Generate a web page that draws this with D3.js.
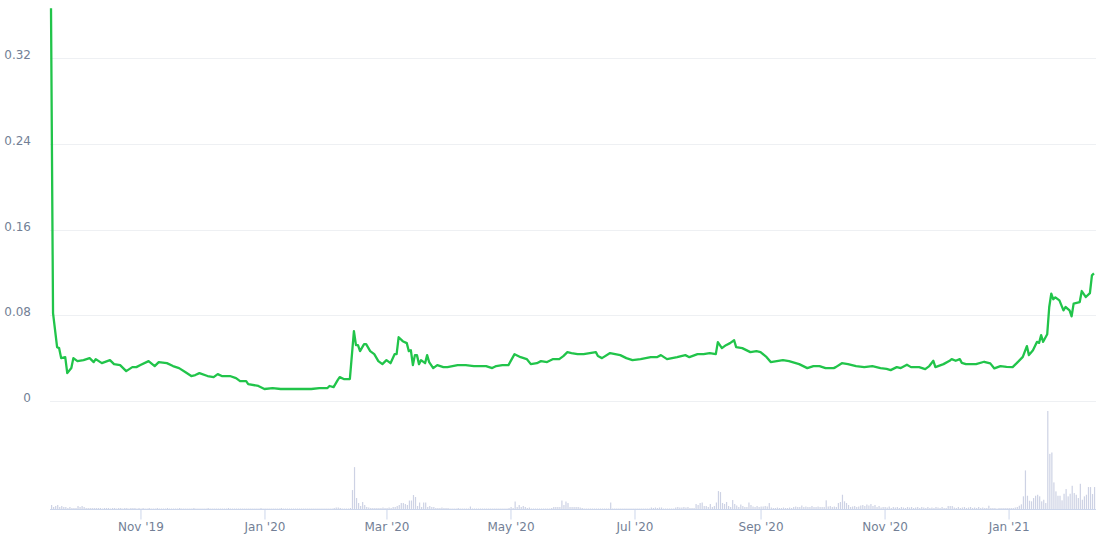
<!DOCTYPE html>
<html>
<head>
<meta charset="utf-8">
<script src="https://cdn.jsdelivr.net/npm/d3@7"></script>
<style>
  body { margin: 0; background: #fff; }
  svg { display: block; font-family: "DejaVu Sans", sans-serif; }
</style>
</head>
<body>
<div id="chart-area"></div>
<script>
// price line (date, value)
var priceDates = [
  "2019-09-18","2019-09-19","2019-09-21","2019-09-22","2019-09-23","2019-09-25","2019-09-26","2019-09-28","2019-09-29",
  "2019-10-01","2019-10-04","2019-10-07","2019-10-09","2019-10-10","2019-10-13","2019-10-17","2019-10-19","2019-10-22","2019-10-25","2019-10-28","2019-10-30",
  "2019-11-01","2019-11-05","2019-11-08","2019-11-10","2019-11-14","2019-11-17","2019-11-20","2019-11-23","2019-11-26","2019-11-28","2019-11-30",
  "2019-12-04","2019-12-07","2019-12-09","2019-12-11","2019-12-15","2019-12-18","2019-12-20","2019-12-23","2019-12-24","2019-12-29",
  "2020-01-01","2020-01-05","2020-01-09","2020-01-14","2020-01-19","2020-01-24","2020-01-28",
  "2020-02-01","2020-02-02","2020-02-04","2020-02-06","2020-02-07","2020-02-09","2020-02-12","2020-02-14","2020-02-15","2020-02-16","2020-02-17","2020-02-19","2020-02-20","2020-02-22","2020-02-24","2020-02-26","2020-02-28",
  "2020-03-01","2020-03-03","2020-03-05","2020-03-06","2020-03-07","2020-03-09","2020-03-11","2020-03-12","2020-03-13","2020-03-14","2020-03-15","2020-03-16","2020-03-17","2020-03-18","2020-03-20","2020-03-21","2020-03-22","2020-03-24","2020-03-26","2020-03-29","2020-03-31",
  "2020-04-05","2020-04-09","2020-04-13","2020-04-16","2020-04-19","2020-04-22","2020-04-24","2020-04-27","2020-04-30",
  "2020-05-03","2020-05-06","2020-05-09","2020-05-11","2020-05-14","2020-05-16","2020-05-19","2020-05-22","2020-05-25","2020-05-27","2020-05-29","2020-05-31",
  "2020-06-03","2020-06-06","2020-06-09","2020-06-12","2020-06-13","2020-06-15","2020-06-19","2020-06-24","2020-06-27","2020-06-30",
  "2020-07-04","2020-07-09","2020-07-12","2020-07-14","2020-07-17","2020-07-22","2020-07-26","2020-07-28",
  "2020-08-01","2020-08-04","2020-08-07","2020-08-10","2020-08-11","2020-08-13","2020-08-15","2020-08-17","2020-08-19","2020-08-20","2020-08-23","2020-08-27","2020-08-30",
  "2020-09-01","2020-09-04","2020-09-06","2020-09-09","2020-09-12","2020-09-15","2020-09-20","2020-09-24","2020-09-27","2020-09-30",
  "2020-10-03","2020-10-07","2020-10-08","2020-10-11","2020-10-14","2020-10-18","2020-10-22","2020-10-26","2020-10-30",
  "2020-11-02","2020-11-04","2020-11-07","2020-11-09","2020-11-12","2020-11-14","2020-11-18","2020-11-21","2020-11-23","2020-11-25","2020-11-26","2020-11-30",
  "2020-12-03","2020-12-04","2020-12-06","2020-12-08","2020-12-09","2020-12-11","2020-12-16","2020-12-20","2020-12-23","2020-12-25","2020-12-28","2020-12-31",
  "2021-01-03","2021-01-05","2021-01-08","2021-01-10","2021-01-11","2021-01-13","2021-01-15","2021-01-16","2021-01-17","2021-01-18","2021-01-20","2021-01-21","2021-01-22","2021-01-23","2021-01-24","2021-01-26","2021-01-28","2021-01-29","2021-01-31",
  "2021-02-01","2021-02-02","2021-02-05","2021-02-06","2021-02-08","2021-02-10","2021-02-11","2021-02-12"
];
var prices = [
  0.3665,0.0819,0.0502,0.0493,0.0400,0.0410,0.0260,0.0307,0.0400,
  0.0372,0.0381,0.0400,0.0363,0.0391,0.0353,0.0381,0.0344,0.0335,0.0279,0.0316,0.0316,
  0.0335,0.0372,0.0326,0.0363,0.0353,0.0326,0.0307,0.0270,0.0233,0.0242,0.0260,
  0.0233,0.0223,0.0251,0.0233,0.0233,0.0214,0.0186,0.0186,0.0158,0.0140,
  0.0112,0.0121,0.0112,0.0112,0.0112,0.0112,0.0121,
  0.0121,0.0140,0.0130,0.0195,0.0223,0.0205,0.0205,0.0651,0.0521,0.0521,0.0465,0.0530,0.0530,0.0465,0.0437,0.0372,0.0344,
  0.0381,0.0353,0.0437,0.0437,0.0595,0.0558,0.0540,0.0465,0.0474,0.0335,0.0428,0.0428,0.0344,0.0381,0.0353,0.0428,0.0363,0.0307,0.0335,0.0316,0.0316,
  0.0335,0.0335,0.0326,0.0326,0.0326,0.0307,0.0326,0.0335,0.0335,
  0.0437,0.0409,0.0391,0.0344,0.0353,0.0372,0.0363,0.0391,0.0391,0.0419,0.0456,0.0447,
  0.0437,0.0437,0.0447,0.0456,0.0419,0.0400,0.0447,0.0428,0.0400,0.0381,
  0.0391,0.0409,0.0409,0.0428,0.0391,0.0409,0.0428,0.0409,
  0.0437,0.0437,0.0447,0.0437,0.0549,0.0493,0.0521,0.0540,0.0567,0.0502,0.0493,0.0456,0.0465,
  0.0456,0.0409,0.0363,0.0372,0.0381,0.0372,0.0344,0.0307,0.0326,0.0326,
  0.0307,0.0307,0.0316,0.0353,0.0344,0.0326,0.0316,0.0326,0.0307,
  0.0300,0.0288,0.0316,0.0307,0.0338,0.0316,0.0316,0.0298,0.0326,0.0375,0.0316,0.0344,
  0.0375,0.0391,0.0375,0.0391,0.0356,0.0344,0.0344,0.0366,0.0351,0.0304,0.0326,0.0319,
  0.0316,0.0353,0.0412,0.0512,0.0428,0.0474,0.0552,0.0542,0.0614,0.0552,0.0623,0.0877,0.1002,0.0949,0.0967,0.0939,0.0846,0.0877,0.0846,
  0.0790,0.0909,0.0923,0.1026,0.0970,0.1007,0.1172,0.1190
];

// daily volume (relative), starting at volumeStart
var volumeStart = "2019-09-18";
var volume = [
  4,2,3,4,2,3,2,2,1,2,1,1,1,
  3,2,3,2,1,1,1,1,1,1,1,1,0.5,1,1,1,0.5,1,1,0.5,1,1,0.5,1,1,0.5,1,1,1,0.5,1,
  0.5,1,0.5,0.5,1,0.5,0.5,0.5,1,0.5,0.5,0.5,0.5,1,0.5,0.5,0.5,0.5,0.5,1,0.5,0.5,0.5,0.5,0.5,0.5,1,0.5,0.5,0.5,
  0.5,0.5,0.5,1,0.5,0.5,0.5,0.5,0.5,0.5,0.5,0.5,0.5,1,0.5,0.5,0.5,0.5,0.5,0.5,0.5,0.5,0.5,0.5,0.5,0.5,0.5,0.5,0.5,1,0.5,
  0.5,0.5,0.5,0.5,0.5,0.5,0.5,0.5,1,0.5,0.5,0.5,0.5,0.5,0.5,0.5,0.5,0.5,0.5,0.5,0.5,0.5,0.5,0.5,0.5,0.5,0.5,0.5,0.5,0.5,0.5,
  0.5,0.5,0.5,1,1.5,1.5,1,0.5,0.5,0.5,0.5,1,19,42,11,6,3,7,4,2,1.5,1,1,1,1,1,1,1.5,1,
  1,1.5,1,2,2,3,4,6,6,5,4,8.5,8.5,14,12,3,6.5,2,6.5,6.5,2,3,2,2,1,1,1,1.5,1,1,1,
  0.5,0.5,0.5,0.5,1,0.5,0.5,0.5,0.5,0.5,2.5,0.5,0.5,0.5,0.5,0.5,0.5,0.5,0.5,0.5,0.5,0.5,0.5,0.5,0.5,0.5,0.5,0.5,0.5,1,
  2,1,7.5,2,4,2,3,2,1,1.5,0.5,0.5,0.5,0.5,0.5,0.5,0.5,0.5,0.5,0.5,1,2,2,2,2,8.5,4,7.5,6,2,2,
  2,2,2,1.5,1,0.5,0.5,0.5,0.5,0.5,0.5,0.5,0.5,0.5,0.5,0.5,0.5,0.5,6.5,0.5,0.5,0.5,0.5,0.5,0.5,0.5,0.5,0.5,0.5,0.5,
  0.5,0.5,0.5,0.5,0.5,0.5,0.5,0.5,1.5,1,1.5,1,1.5,1.5,0.5,0.5,0.5,0.5,0.5,0.5,1.5,2,1.5,1.5,2,1.5,2,1,1,1,5,
  4,6,6.5,3,3,2,5,2,3,6.5,18,17,6,5,7,3,2,9,5,3.5,2,4.5,3,2,2,6.5,4,2.5,2,3,2,
  2.5,2.5,3,2.5,6,1.5,1,1,1.5,1,1,1.5,1,1,1.5,1,2,2.5,2,2,3.5,2,2.5,2,2,3,2,2,2.5,2,
  2,2,8.7,2.5,3,2,2.5,2,6,7,14.3,7.7,6,4,2,2.5,3,2,2.5,3.5,4,3,4.5,3.5,5,3,4,2,3,1.5,2,
  2,1.5,2.5,1,2,1.5,2,1,2,1.5,1,2,1.5,2,1,1.5,2,1,2,1.5,1,2,1,1.5,1,2,1.5,1,2,1,
  1,3,3,3,1.5,1,2,1,1.5,2,1,1.5,2,1,1.5,1,2,1,1.5,1,1,3.3,1,1,1,0.5,1,1,1,1,1,
  1,1,1,1.5,2,3.3,4.7,12.7,38.7,13.3,8.3,7.7,11,13.3,14.3,12.7,7.7,9.3,6,98.3,55.3,56.7,26.7,17.7,13.3,13.3,8.7,15.3,20,12.7,15.3,
  23.3,16,14.3,11,25.3,9.3,12.7,14.3,22,22,15,22
];

var xTickDates = ["2019-11-01","2020-01-01","2020-03-01","2020-05-01","2020-07-01","2020-09-01","2020-11-01","2021-01-01"];
var yTicks = [0, 0.08, 0.16, 0.24, 0.32];

var width = 1100;
var height = 537;
var plotLeft = 50, plotRight = 1096;
var priceBottom = 401, priceTop = 58;
var volBottom = 509, volTop = 411;
var labelColor = "#737f96";

var parse = d3.timeParse("%Y-%m-%d");

var priceData = priceDates.map((d, i) => ({ date: parse(d), value: prices[i] }));
var start = parse(volumeStart);
var volData = volume.map((v, i) => ({ date: d3.timeDay.offset(start, i), value: v }));

var svg = d3.select("#chart-area")
  .append("svg")
  .attr("width", width)
  .attr("height", height);

var x = d3.scaleTime()
  .domain([parse("2019-09-18"), parse("2021-02-13")])
  .range([51, plotRight]);

var y = d3.scaleLinear()
  .domain([0, 0.32])
  .range([priceBottom, priceTop]);

var yVol = d3.scaleLinear()
  .domain([0, d3.max(volume)])
  .range([volBottom, volTop]);

// grid lines
svg.append("g")
  .selectAll("line")
  .data(yTicks)
  .enter().append("line")
  .attr("x1", plotLeft)
  .attr("x2", plotRight)
  .attr("y1", d => Math.round(y(d)) + 0.5)
  .attr("y2", d => Math.round(y(d)) + 0.5)
  .attr("stroke", "#eef0f3")
  .attr("stroke-width", 1);

// y labels
svg.append("g")
  .selectAll("text")
  .data(yTicks)
  .enter().append("text")
  .attr("x", 31)
  .attr("y", d => y(d) + 1)
  .attr("text-anchor", "end")
  .attr("font-size", "12px")
  .attr("fill", labelColor)
  .text(d => String(d));

// volume bars
svg.append("g")
  .selectAll("rect")
  .data(volData)
  .enter().append("rect")
  .attr("x", d => x(d.date))
  .attr("y", d => yVol(d.value))
  .attr("width", 1.2)
  .attr("height", d => volBottom - yVol(d.value))
  .attr("fill", "#cdd2e4");

// x axis
var xAxisCall = d3.axisBottom(x)
  .tickValues(xTickDates.map(parse))
  .tickSize(10)
  .tickFormat(d3.timeFormat("%b '%y"));

var xAxisGroup = svg.append("g")
  .attr("transform", "translate(0," + (volBottom + 0.5) + ")")
  .call(xAxisCall);

xAxisGroup.select(".domain")
  .attr("d", "M" + plotLeft + ",0H" + plotRight)
  .attr("stroke", "#ccd6eb");

xAxisGroup.selectAll(".tick line")
  .attr("stroke", "#ccd6eb");

xAxisGroup.selectAll(".tick text")
  .attr("y", 21.5)
  .attr("dy", 0)
  .attr("font-size", "12px")
  .attr("font-family", "DejaVu Sans, sans-serif")
  .attr("fill", labelColor);

// price line
var line = d3.line()
  .x(d => x(d.date))
  .y(d => y(d.value));

svg.append("path")
  .datum(priceData)
  .attr("d", line)
  .attr("fill", "none")
  .attr("stroke", "#21c44a")
  .attr("stroke-width", 2.3)
  .attr("stroke-linejoin", "round");
</script>
</body>
</html>
